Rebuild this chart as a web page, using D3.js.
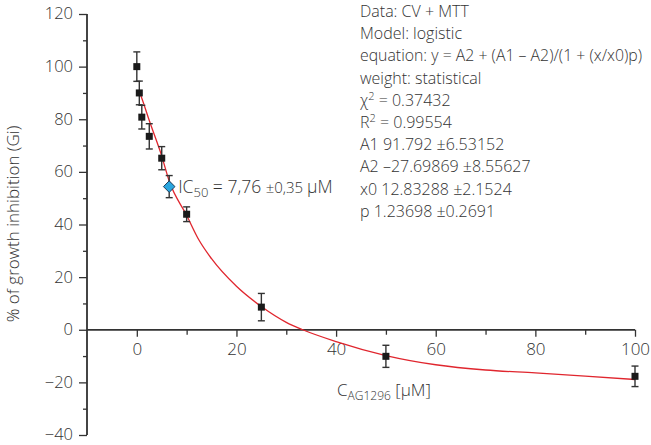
<!DOCTYPE html>
<html><head><meta charset="utf-8">
<script src="https://cdn.jsdelivr.net/npm/d3@7"></script>
<style>
html,body{margin:0;padding:0;background:#fff;}
svg text{font-family:"Open Sans","Lato",sans-serif;font-weight:300;fill:#333;}
</style></head>
<body><svg id="c" width="651" height="445"></svg>
<script>
// Measured data
const conc = [0, 0.5, 1, 2.5, 5, 10, 25, 50, 100];
const inhibition = [100, 90, 80.8, 73.5, 65.2, 43.9, 8.6, -10.1, -17.7];
const errors = [5.6, 4.5, 4.5, 4.8, 4.4, 2.8, 5.2, 4.2, 3.9];
const ic50Point = {x: 6.5, y: 54.4, err: 4.2};
// Fitted curve
const fitX = [0.5, 1, 2.5, 5, 6.5, 10, 12.5, 15, 20, 25, 30, 33.3, 40, 50, 60, 70, 80, 90, 100];
const fitY = [90.5, 88, 79.5, 66, 56.5, 43.5, 34, 27, 16.5, 8.8, 2.8, 0, -4.5, -9.8, -13.3, -15.3, -16.4, -17.6, -18.9];
const xTicks = [0, 20, 40, 60, 80, 100];
const yTicks = [-40, -20, 0, 20, 40, 60, 80, 100, 120];
const infoLines = [
  "Data: CV + MTT",
  "Model: logistic",
  "equation: y = A2 + (A1 \u2013 A2)/(1 + (x/x0)p)",
  "weight: statistical",
  "CHI",
  "R2",
  "A1 91.792 \u00b16.53152",
  "A2 \u201327.69869 \u00b18.55627",
  "x0 12.83288 \u00b12.1524",
  "p 1.23698 \u00b10.2691"
];

const svg = d3.select("#c");
const x = d3.scaleLinear().domain([-10, 100]).range([87, 635]);
const y = d3.scaleLinear().domain([-40, 120]).range([435, 14]);
const axisCol = "#333";
const FF = '"Open Sans","Lato",sans-serif';

// Y axis
const yAxis = svg.append("g").attr("transform", `translate(${x(-10)},0)`);
yAxis.call(d3.axisLeft(y).tickValues(yTicks).tickSize(8).tickFormat(d => d < 0 ? "\u2212" + Math.abs(d) : d));
yAxis.append("g").call(d3.axisLeft(y).tickValues(d3.range(-30, 120, 20)).tickSize(4).tickFormat(""));
yAxis.selectAll(".domain").attr("stroke", axisCol).attr("stroke-width", 1.4).attr("d", `M0,${y(-40)}V${y(120)}`);
yAxis.selectAll(".tick line").attr("stroke", axisCol).attr("stroke-width", 1.3);
yAxis.selectAll(".tick text").attr("font-size", 16.5).attr("x", -14).attr("dy", "0.3em").attr("fill", "#333")
  .style("font-family", FF);

// X axis
const xAxis = svg.append("g").attr("transform", `translate(0,${y(0)})`);
xAxis.call(d3.axisBottom(x).tickValues(xTicks).tickSize(7).tickFormat(d => d));
xAxis.append("g").call(d3.axisBottom(x).tickValues(d3.range(10, 100, 20)).tickSize(5).tickFormat(""));
xAxis.selectAll(".domain").attr("stroke", axisCol).attr("stroke-width", 1.4).attr("d", `M${x(-10)},0H${x(100)}`);
xAxis.selectAll(".tick line").attr("stroke", axisCol).attr("stroke-width", 1.3);
xAxis.selectAll(".tick text").attr("font-size", 17).attr("y", 13).attr("dy", "0.71em").attr("fill", "#333")
  .style("font-family", FF);

// Fit curve
const fitData = fitX.map((v, i) => [v, fitY[i]]);
svg.append("path").datum(fitData)
  .attr("d", d3.line().x(d => x(d[0])).y(d => y(d[1])).curve(d3.curveMonotoneX))
  .attr("fill", "none").attr("stroke", "#e0262e").attr("stroke-width", 1.3);

// Error bars and points
const pts = conc.map((c, i) => ({x: c, y: inhibition[i], e: errors[i]}));
const eb = svg.append("g").attr("stroke", "#333").attr("stroke-width", 1.4);
function errBar(d) {
  const cx = x(d.x);
  eb.append("line").attr("x1", cx).attr("x2", cx).attr("y1", y(d.y + d.e)).attr("y2", y(d.y - d.e));
  eb.append("line").attr("x1", cx - 3.5).attr("x2", cx + 3.5).attr("y1", y(d.y + d.e)).attr("y2", y(d.y + d.e));
  eb.append("line").attr("x1", cx - 3.5).attr("x2", cx + 3.5).attr("y1", y(d.y - d.e)).attr("y2", y(d.y - d.e));
}
pts.forEach(errBar);
errBar({x: ic50Point.x, y: ic50Point.y, e: ic50Point.err});
svg.append("g").selectAll("rect").data(pts).join("rect")
  .attr("x", d => x(d.x) - 3.5).attr("y", d => y(d.y) - 3.5)
  .attr("width", 7).attr("height", 7).attr("fill", "#1a1a1a");

// IC50 diamond
const diamondSym = d3.symbolDiamond2 ? d3.symbol().type(d3.symbolDiamond2).size(85) : d3.symbol().type(d3.symbolSquare).size(42);
svg.append("path")
  .attr("d", diamondSym())
  .attr("transform", `translate(${x(ic50Point.x)},${y(ic50Point.y)}) rotate(${d3.symbolDiamond2 ? 0 : 45})`)
  .attr("fill", "#2aa6df").attr("stroke", "#1d3d5a").attr("stroke-width", 1);

const ic = svg.append("text").attr("x", x(ic50Point.x) + 9).attr("y", y(ic50Point.y) + 6).attr("font-size", 17.5);
ic.append("tspan").text("IC");
ic.append("tspan").attr("font-size", 13).attr("dy", 4).text("50");
ic.append("tspan").attr("dy", -4).text(" = 7,76 ");
ic.append("tspan").attr("font-size", 15).text("\u00b10,35 ");
ic.append("tspan").text("\u03bcM");

// X axis title
const xt = svg.append("text").attr("x", 337).attr("y", 396).attr("font-size", 17);
xt.append("tspan").text("C");
xt.append("tspan").attr("font-size", 12).attr("dy", 4).text("AG1296");
xt.append("tspan").attr("dy", -4).text(" [\u03bcM]");

// Y axis title
svg.append("text").attr("transform", "translate(19,224) rotate(-90)")
  .attr("text-anchor", "middle").attr("font-size", 17).text("% of growth inhibition (Gi)");

// Info block
const info = svg.append("g");
infoLines.forEach((t, i) => {
  const tx = info.append("text").attr("x", 360).attr("y", 17 + i * 22.2).attr("font-size", 16);
  if (t === "CHI") {
    tx.append("tspan").text("\u03c7");
    tx.append("tspan").attr("font-size", 11).attr("dy", -6).text("2");
    tx.append("tspan").attr("dy", 6).text(" = 0.37432");
  } else if (t === "R2") {
    tx.append("tspan").text("R");
    tx.append("tspan").attr("font-size", 11).attr("dy", -6).text("2");
    tx.append("tspan").attr("dy", 6).text(" = 0.99554");
  } else tx.text(t);
  const w = tx.node().getComputedTextLength();
  if (360 + w > 642) tx.attr("textLength", 642 - 360).attr("lengthAdjust", "spacingAndGlyphs");
});
</script></body></html>
